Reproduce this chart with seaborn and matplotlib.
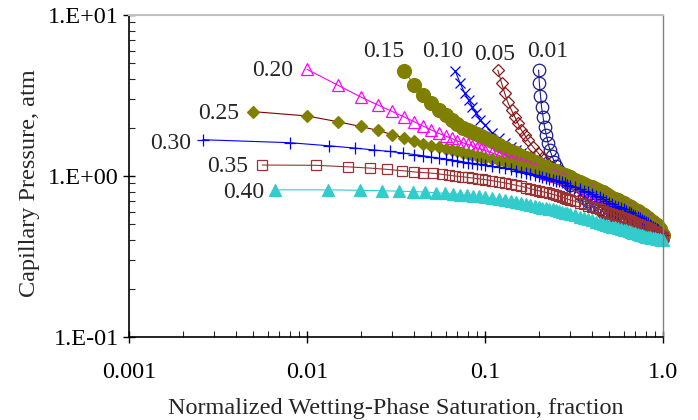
import matplotlib
matplotlib.use("Agg")
import matplotlib.pyplot as plt
import matplotlib.ticker as mticker
import seaborn as sns

# ---------------- data ----------------
labels = ["0.01", "0.05", "0.10", "0.15", "0.20", "0.25", "0.30", "0.35", "0.40"]

x_ticks = [0.001, 0.01, 0.1, 1.0]
x_tick_labels = ["0.001", "0.01", "0.1", "1.0"]
y_ticks = [0.1, 1.0, 10.0]
y_tick_labels = ["1.E-01", "1.E+00", "1.E+01"]

# shared saturation positions of the dense right-hand part
sw_grid_a = [0.055, 0.060, 0.065, 0.070, 0.075, 0.080, 0.085, 0.090, 0.095]
sw_grid_b1 = [0.10, 0.11, 0.12, 0.13, 0.14, 0.15, 0.16, 0.17, 0.18, 0.19, 0.20,
              0.21, 0.22, 0.23, 0.24, 0.25, 0.26, 0.27, 0.28, 0.29, 0.30]
sw_grid_b2 = [0.32, 0.34, 0.36, 0.38, 0.40, 0.42, 0.44, 0.46, 0.48, 0.50,
              0.52, 0.54, 0.56, 0.58, 0.60, 0.62, 0.64, 0.66, 0.68, 0.70,
              0.72, 0.74, 0.76, 0.78, 0.80, 0.82, 0.84, 0.86, 0.88, 0.90,
              0.92, 0.94, 0.96, 0.98, 1.00]

sw_001 = [0.200, 0.202, 0.205, 0.208, 0.212, 0.216, 0.221, 0.226, 0.231, 0.238,
          0.245, 0.252, 0.260, 0.270, 0.280, 0.290, 0.300] + sw_grid_b2
pc_001 = [4.55, 3.77, 3.16, 2.67, 2.32, 2.02, 1.80, 1.61, 1.46, 1.33,
          1.23, 1.15, 1.08, 1.01, 0.96, 0.92, 0.88,
          0.817, 0.77, 0.73, 0.695, 0.665, 0.64, 0.62, 0.60, 0.585, 0.57,
          0.557, 0.545, 0.535, 0.525, 0.517, 0.51, 0.502, 0.495, 0.49, 0.485,
          0.479, 0.473, 0.468, 0.464, 0.46, 0.456, 0.452, 0.448, 0.444, 0.44,
          0.436, 0.432, 0.428, 0.424, 0.42]

sw_005 = [0.118, 0.124, 0.129, 0.134, 0.141, 0.147, 0.153, 0.160, 0.167, 0.174,
          0.186, 0.199, 0.210, 0.220, 0.232, 0.243, 0.254, 0.267, 0.280, 0.290,
          0.300] + sw_grid_b2
pc_005 = [4.55, 3.77, 3.27, 2.88, 2.56, 2.33, 2.13, 1.93, 1.80, 1.67,
          1.52, 1.39, 1.29, 1.22, 1.14, 1.09, 1.04, 1.00, 0.96, 0.935,
          0.91,
          0.87, 0.833, 0.80, 0.772, 0.745, 0.722, 0.70, 0.68, 0.665, 0.65,
          0.635, 0.62, 0.61, 0.60, 0.59, 0.58, 0.57, 0.56, 0.552, 0.545,
          0.537, 0.529, 0.521, 0.513, 0.505, 0.497, 0.489, 0.482, 0.476, 0.47,
          0.462, 0.454, 0.446, 0.438, 0.43]

sw_010 = [0.068, 0.0725, 0.077, 0.081, 0.085, 0.089, 0.094] + sw_grid_b1 + sw_grid_b2
pc_010 = [4.50, 3.77, 3.26, 2.96, 2.69, 2.45, 2.23,
          2.07, 1.85, 1.71, 1.60, 1.52, 1.45, 1.39, 1.34, 1.29, 1.25, 1.21,
          1.175, 1.14, 1.11, 1.08, 1.055, 1.03, 1.007, 0.985, 0.965, 0.945,
          0.91, 0.88, 0.85, 0.825, 0.80, 0.78, 0.76, 0.74, 0.722, 0.705,
          0.69, 0.675, 0.662, 0.65, 0.637, 0.625, 0.615, 0.605, 0.595, 0.585,
          0.575, 0.565, 0.555, 0.545, 0.535, 0.525, 0.515, 0.506, 0.498, 0.49,
          0.48, 0.47, 0.46, 0.447, 0.43]

sw_015 = [0.035, 0.040, 0.045, 0.050] + sw_grid_a + sw_grid_b1 + sw_grid_b2
pc_015 = [4.50, 3.70, 3.18, 2.83,
          2.57, 2.39, 2.23, 2.10, 2.00, 1.92, 1.87, 1.82, 1.775,
          1.73, 1.64, 1.56, 1.49, 1.43, 1.38, 1.335, 1.295, 1.25, 1.215, 1.18,
          1.155, 1.13, 1.11, 1.09, 1.07, 1.05, 1.03, 1.01, 0.995, 0.98,
          0.95, 0.92, 0.895, 0.872, 0.85, 0.83, 0.81, 0.79, 0.77, 0.75,
          0.735, 0.72, 0.705, 0.69, 0.677, 0.665, 0.652, 0.64, 0.627, 0.615,
          0.603, 0.591, 0.58, 0.57, 0.56, 0.548, 0.536, 0.525, 0.515, 0.505,
          0.493, 0.481, 0.469, 0.452, 0.43]

sw_020 = [0.010, 0.015, 0.020, 0.025, 0.030, 0.035, 0.040, 0.045, 0.050] + sw_grid_a + sw_grid_b1 + sw_grid_b2
pc_020 = [4.60, 3.65, 3.10, 2.76, 2.52, 2.33, 2.17, 2.04, 1.93,
          1.84, 1.77, 1.71, 1.65, 1.61, 1.57, 1.535, 1.50, 1.47,
          1.44, 1.39, 1.34, 1.30, 1.26, 1.23, 1.20, 1.17, 1.14, 1.115, 1.09,
          1.07, 1.05, 1.032, 1.015, 1.00, 0.985, 0.97, 0.955, 0.942, 0.93,
          0.903, 0.878, 0.855, 0.835, 0.815, 0.795, 0.777, 0.76, 0.742, 0.725,
          0.71, 0.695, 0.682, 0.67, 0.657, 0.645, 0.632, 0.62, 0.61, 0.60,
          0.59, 0.58, 0.57, 0.56, 0.55, 0.54, 0.53, 0.52, 0.51, 0.50,
          0.488, 0.476, 0.464, 0.448, 0.43]

sw_025 = [0.005, 0.010, 0.015, 0.020, 0.025, 0.030, 0.035, 0.040, 0.045, 0.050] + sw_grid_a + sw_grid_b1 + sw_grid_b2
pc_025 = [2.51, 2.36, 2.17, 2.03, 1.92, 1.81, 1.72, 1.65, 1.59, 1.54,
          1.51, 1.48, 1.45, 1.42, 1.395, 1.37, 1.35, 1.33, 1.315,
          1.30, 1.27, 1.24, 1.215, 1.19, 1.17, 1.15, 1.13, 1.11, 1.09, 1.07,
          1.052, 1.035, 1.017, 1.00, 0.987, 0.975, 0.962, 0.95, 0.937, 0.925,
          0.898, 0.873, 0.85, 0.83, 0.81, 0.79, 0.772, 0.755, 0.737, 0.72,
          0.705, 0.69, 0.677, 0.665, 0.652, 0.64, 0.627, 0.615, 0.605, 0.595,
          0.585, 0.575, 0.565, 0.555, 0.545, 0.535, 0.525, 0.515, 0.505, 0.495,
          0.483, 0.471, 0.459, 0.445, 0.43]

sw_030 = [0.0026, 0.0080, 0.0133, 0.0186, 0.0239, 0.0292, 0.0345, 0.0398, 0.045, 0.050] + sw_grid_a + sw_grid_b1 + sw_grid_b2
pc_030 = [1.68, 1.61, 1.54, 1.49, 1.45, 1.42, 1.39, 1.36, 1.335, 1.31,
          1.29, 1.27, 1.255, 1.24, 1.225, 1.21, 1.20, 1.19, 1.18,
          1.17, 1.15, 1.13, 1.115, 1.10, 1.08, 1.065, 1.05, 1.035, 1.017, 1.00,
          0.987, 0.975, 0.962, 0.95, 0.937, 0.925, 0.912, 0.90, 0.885, 0.87,
          0.85, 0.83, 0.81, 0.79, 0.77, 0.753, 0.737, 0.72, 0.70, 0.68,
          0.667, 0.655, 0.642, 0.63, 0.62, 0.61, 0.597, 0.585, 0.575, 0.565,
          0.555, 0.545, 0.535, 0.525, 0.515, 0.507, 0.499, 0.491, 0.483, 0.475,
          0.467, 0.459, 0.451, 0.441, 0.43]

sw_035 = [0.0056, 0.0113, 0.0170, 0.0225, 0.0280, 0.0340, 0.0400, 0.0450, 0.0510,
          0.0570, 0.0630, 0.0680, 0.0740, 0.0800, 0.0850, 0.0910, 0.0960] + sw_grid_b1 + sw_grid_b2
pc_035 = [1.17, 1.165, 1.14, 1.12, 1.10, 1.08, 1.06, 1.05, 1.04,
          1.025, 1.01, 1.00, 0.99, 0.98, 0.972, 0.963, 0.955,
          0.95, 0.935, 0.92, 0.905, 0.89, 0.875, 0.862, 0.848, 0.835, 0.822, 0.81,
          0.80, 0.79, 0.78, 0.77, 0.76, 0.75, 0.74, 0.73, 0.72, 0.71,
          0.697, 0.683, 0.67, 0.655, 0.64, 0.63, 0.62, 0.61, 0.60, 0.59,
          0.58, 0.57, 0.562, 0.555, 0.547, 0.54, 0.532, 0.525, 0.517, 0.51,
          0.504, 0.498, 0.492, 0.486, 0.48, 0.474, 0.468, 0.462, 0.456, 0.45,
          0.444, 0.438, 0.432, 0.426, 0.42]

sw_040 = [0.0066, 0.0132, 0.0198, 0.0264, 0.0330, 0.0396, 0.0462, 0.0528,
          0.0594, 0.0660, 0.0726, 0.0792, 0.0858, 0.0924] + sw_grid_b1 + sw_grid_b2
pc_040 = [0.82, 0.82, 0.815, 0.81, 0.805, 0.80, 0.795, 0.787,
          0.78, 0.773, 0.767, 0.76, 0.753, 0.746,
          0.74, 0.73, 0.72, 0.71, 0.70, 0.69, 0.68, 0.672, 0.665, 0.655, 0.645,
          0.637, 0.63, 0.625, 0.62, 0.612, 0.605, 0.597, 0.59, 0.585, 0.58,
          0.57, 0.56, 0.55, 0.54, 0.53, 0.52, 0.512, 0.505, 0.497, 0.49,
          0.485, 0.48, 0.475, 0.47, 0.465, 0.46, 0.455, 0.45, 0.445, 0.44,
          0.436, 0.432, 0.428, 0.424, 0.42, 0.418, 0.416, 0.414, 0.412, 0.41,
          0.408, 0.406, 0.404, 0.402, 0.40]

sw_series = [sw_001, sw_005, sw_010, sw_015, sw_020, sw_025, sw_030, sw_035, sw_040]
pc_series = [pc_001, pc_005, pc_010, pc_015, pc_020, pc_025, pc_030, pc_035, pc_040]

# ---------------- styles ----------------
styles = [
    dict(marker="o", markersize=9.0, markerfacecolor="none", markeredgecolor="#1c1c8e", color="#1c1c8e"),
    dict(marker="D", markersize=6.3, markerfacecolor="none", markeredgecolor="#8b1a1a", color="#8b1a1a"),
    dict(marker="x", markersize=7.5, markerfacecolor="#0000ff", markeredgecolor="#0000ff", color="#0000ff"),
    dict(marker="o", markersize=10.0, markerfacecolor="#808000", markeredgecolor="#808000", color="#808000"),
    dict(marker="^", markersize=9.0, markerfacecolor="none", markeredgecolor="#ff00ff", color="#ff00ff"),
    dict(marker="D", markersize=6.5, markerfacecolor="#808000", markeredgecolor="#808000", color="#800000"),
    dict(marker="+", markersize=9.0, markerfacecolor="#0000ff", markeredgecolor="#0000ff", color="#0000ff"),
    dict(marker="s", markersize=7.0, markerfacecolor="none", markeredgecolor="#993333", color="#993333"),
    dict(marker="^", markersize=8.5, markerfacecolor="#33cccc", markeredgecolor="#33cccc", color="#33cccc"),
]
# label anchor positions in figure pixels (center x, baseline y)
label_px = [(547.5, 57), (495, 60), (442.5, 57), (384, 57), (272.5, 76),
            (219, 119), (170.5, 149), (228, 172), (244, 198)]

sns.set_style("ticks")
plt.rcParams["font.family"] = ["Liberation Serif", "DejaVu Serif"]

W, H = 698, 420
fig = plt.figure(figsize=(W / 100, H / 100), dpi=100)
ax = fig.add_axes([129 / W, (H - 337) / H, (663 - 129) / W, (337 - 15) / H])
ax.set_xscale("log")
ax.set_yscale("log")

for sw, pc, st in zip(sw_series, pc_series, styles):
    sns.lineplot(x=sw, y=pc, ax=ax, estimator=None, sort=False, legend=False,
                 linewidth=0.8, markeredgewidth=0.9, clip_on=False, **st)

ax.set_xlim(0.001, 1.0)
ax.set_ylim(0.1, 10.0)

ax.xaxis.set_major_locator(mticker.FixedLocator(x_ticks))
ax.xaxis.set_major_formatter(mticker.FixedFormatter(x_tick_labels))
ax.yaxis.set_major_locator(mticker.FixedLocator(y_ticks))
ax.yaxis.set_major_formatter(mticker.FixedFormatter(y_tick_labels))
ax.xaxis.set_minor_locator(mticker.LogLocator(base=10, subs=range(2, 10)))
ax.yaxis.set_minor_locator(mticker.LogLocator(base=10, subs=range(2, 10)))
ax.xaxis.set_minor_formatter(mticker.NullFormatter())
ax.yaxis.set_minor_formatter(mticker.NullFormatter())

ax.tick_params(which="major", direction="inout", length=8.5, width=1.0,
               labelsize=17.5, colors="black", top=False, right=False)
ax.tick_params(which="minor", direction="in", length=4.3, width=0.8,
               top=False, right=False)
ax.tick_params(axis="x", which="major", pad=14)
ax.tick_params(axis="y", which="major", pad=3)

for side in ["left", "bottom"]:
    ax.spines[side].set_color("black")
    ax.spines[side].set_linewidth(1.2)
ax.spines["top"].set_color("#c0c0c0")
ax.spines["top"].set_linewidth(1.5)
ax.spines["right"].set_color("#808080")
ax.spines["right"].set_linewidth(1.0)

ax.set_xlabel("Normalized Wetting-Phase Saturation, fraction", fontsize=17.5)
ax.set_ylabel("Capillary Pressure, atm", fontsize=17.5)
ax.xaxis.set_label_coords(0.5, -0.19)
ax.yaxis.set_label_coords(-0.166, 0.478)

for lab, (px, py) in zip(labels, label_px):
    fig.text(px / W, 1 - py / H, lab, ha="center", va="baseline", fontsize=17)

fig.savefig("out.png", dpi=100)
